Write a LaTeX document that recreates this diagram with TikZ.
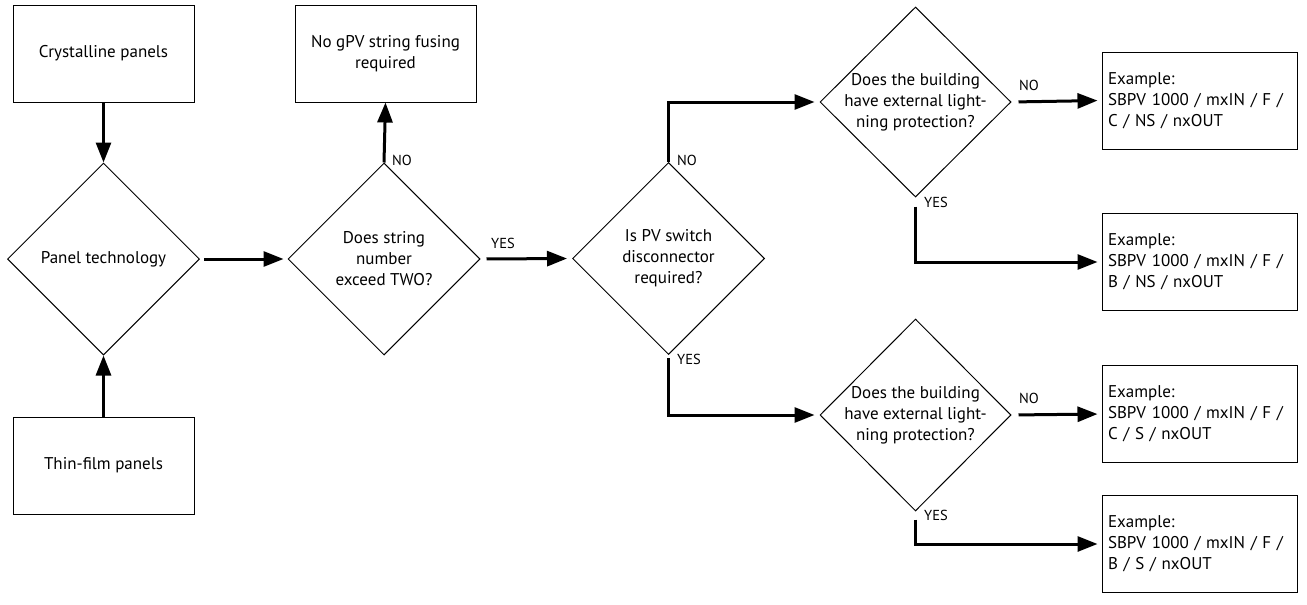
\documentclass[tikz,border=0pt]{standalone}
\usepackage{fontspec}
\setmainfont{PT Sans}
\usetikzlibrary{shapes.geometric,arrows.meta}
\begin{document}
\begin{tikzpicture}[x=1pt,y=-1pt,
  every node/.style={font=\fontsize{17}{21}\selectfont},
  box/.style={draw,line width=1pt,rectangle,inner sep=0pt,minimum width=181pt,minimum height=97pt,align=center},
  exbox/.style={draw,line width=1pt,rectangle,inner sep=6pt,minimum width=195pt,minimum height=97pt,text width=183pt,align=left},
  dia/.style={draw,line width=1pt,diamond,aspect=1,inner sep=0pt,minimum width=192pt,minimum height=192pt},
  dtext/.style={align=center,inner sep=0pt},
  lab/.style={font=\fontsize{14.5}{16}\selectfont,inner sep=0pt,anchor=west},
  arr/.style={line width=3pt,-{Triangle[length=20pt,width=15pt]}}
]
\useasboundingbox (0,0) rectangle (1307,605);
% boxes
\node[box] (cp) at (103.5,53.5) {Crystalline panels};
\node[box] (ng) at (385.5,53.5) {No gPV string fusing\\required};
\node[box] (tf) at (103.5,465.5) {Thin-film panels};
% diamonds
\node[dia] (d1) at (103.5,259) {};
\node[dtext] (d1t) at (d1) {Panel technology};
\node[dia] (d2) at (384,259) {};
\node[dtext] (d2t) at (d2) {Does string\\number\\exceed TWO?};
\node[dia] (d3) at (668.5,258.5) {};
\node[dtext] (d3t) at (d3) {Is PV switch\\disconnector\\required?};
\node[dia,minimum width=191pt,minimum height=190pt] (d4) at (915.5,102) {};
\node[dtext] (d4t) at (d4) {Does the building\\have external light-\\ning protection?};
\node[dia,minimum width=191pt,minimum height=192pt] (d5) at (915.5,415) {};
\node[dtext] (d5t) at (d5) {Does the building\\have external light-\\ning protection?};
% example boxes
\node[exbox] (e1) at (1199.5,100.5) {Example:\\SBPV 1000 / mxIN / F /\\C / NS / nxOUT};
\node[exbox] (e2) at (1199.5,262) {Example:\\SBPV 1000 / mxIN / F /\\B / NS / nxOUT};
\node[exbox] (e3) at (1199.5,414) {Example:\\SBPV 1000 / mxIN / F /\\C / S / nxOUT};
\node[exbox] (e4) at (1199.5,544) {Example:\\SBPV 1000 / mxIN / F /\\B / S / nxOUT};
% connectors
\draw[arr] (cp.south) -- (d1.north);
\draw[arr] (tf.north) -- (d1.south);
\draw[arr,shorten <=4pt,shorten >=4pt] (d1.east) -- (d2.west);
\draw[arr] (d2.north) -- (ng.south);
\draw[arr,shorten <=6pt,shorten >=5pt] (d2.east) -- (d3.west);
\draw[arr,shorten >=5pt] (d3.north) |- (d4.west);
\draw[arr,shorten <=3pt,shorten >=5pt] (d3.south) |- (d5.west);
\draw[arr,shorten <=7pt,shorten >=4pt] (d4.east) -- (e1.west);
\draw[arr,shorten <=9pt,shorten >=4pt] (d4.south) |- (e2.west);
\draw[arr,shorten <=7pt,shorten >=4pt] (d5.east) -- (e3.west);
\draw[arr,shorten <=8pt,shorten >=4pt] (d5.south) |- (e4.west);
% labels
\node[lab] (l1) at (392,160) {NO};
\node[lab] (l2) at (491,243) {YES};
\node[lab] (l3) at (677,160) {NO};
\node[lab] (l4) at (677,359) {YES};
\node[lab] (l5) at (1019,85) {NO};
\node[lab] (l6) at (924,202) {YES};
\node[lab] (l7) at (1019,398) {NO};
\node[lab] (l8) at (924,515) {YES};
\end{tikzpicture}
\end{document}
